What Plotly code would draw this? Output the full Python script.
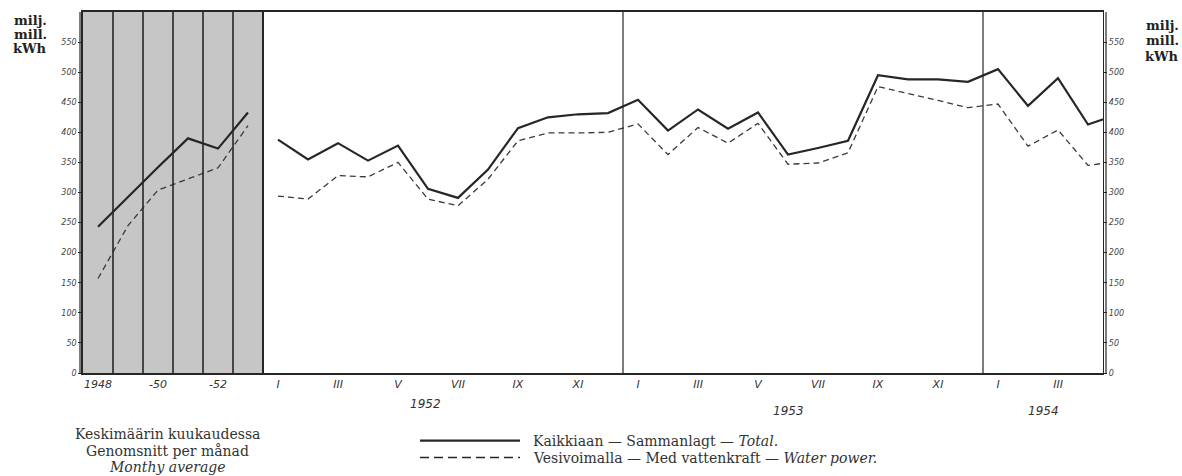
import plotly.graph_objects as go

# ---- data ----
avg_years = ["1948", "1949", "1950", "1951", "1952", "1953"]
avg_total = [243, 293, 342, 390, 373, 433]
avg_water = [157, 245, 304, 323, 341, 411]

month_labels = ["I", "II", "III", "IV", "V", "VI", "VII", "VIII", "IX", "X", "XI", "XII"]
years_monthly = ["1952", "1953", "1954"]
total_monthly = [388, 355, 382, 353, 378, 306, 291, 338, 407, 425, 430, 432,
                 454, 403, 438, 406, 433, 363, 374, 386, 495, 488, 488, 484,
                 505, 444, 490, 413, 430]
water_monthly = [294, 289, 328, 326, 350, 289, 278, 322, 386, 399, 399, 400,
                 414, 363, 408, 382, 415, 347, 349, 366, 476, 465, 453, 441,
                 447, 377, 404, 345, 352]
avg_tick_labels = ["1948", "-50", "-52"]
y_ticks = list(range(0, 600, 50))

# ---- geometry helpers ----
W, H = 1182, 476
L, R, T, B = 83, 1103, 10, 373
def xp(px):
    return (px - L) / (R - L)
def yp(py):
    return (B - py) / (B - T)

n_avg = len(avg_years)
x_avg = [i - n_avg for i in range(n_avg)]
x_mon = list(range(len(total_monthly)))

INK = "#262626"
fig = go.Figure()

fig.add_trace(go.Scatter(x=x_avg, y=avg_total, mode="lines",
                         line=dict(color=INK, width=2.2), showlegend=False))
fig.add_trace(go.Scatter(x=x_avg, y=avg_water, mode="lines",
                         line=dict(color="#3a3a3a", width=1.3, dash="6px,4px"), showlegend=False))
fig.add_trace(go.Scatter(x=x_mon, y=total_monthly, mode="lines",
                         line=dict(color=INK, width=2.2), showlegend=False))
fig.add_trace(go.Scatter(x=x_mon, y=water_monthly, mode="lines",
                         line=dict(color="#3a3a3a", width=1.3, dash="6px,4px"), showlegend=False))
fig.add_trace(go.Scatter(x=[0], y=[0], yaxis="y2", mode="markers",
                         marker=dict(opacity=0), showlegend=False, hoverinfo="skip"))

shapes = []
shapes.append(dict(type="rect", xref="x", yref="y", x0=-n_avg - 0.5, x1=-0.5, y0=0, y1=600,
                   fillcolor="#c6c6c6", line=dict(width=0), layer="below"))
for i in range(n_avg):
    xb = -n_avg + 0.5 + i
    shapes.append(dict(type="line", xref="x", yref="y", x0=xb, x1=xb, y0=0, y1=600,
                       line=dict(color=INK, width=1.6 if i < n_avg - 1 else 2)))
for j in range(1, len(years_monthly)):
    xs = 12 * j - 0.5
    shapes.append(dict(type="line", xref="x", yref="y", x0=xs, x1=xs, y0=0, y1=600,
                       line=dict(color=INK, width=1.2)))
shapes.append(dict(type="line", xref="paper", yref="paper", xsizemode="pixel", xanchor=1,
                   x0=3, x1=3, y0=0, y1=1, line=dict(color=INK, width=1.2)))
shapes.append(dict(type="line", xref="paper", yref="paper", xsizemode="pixel", xanchor=0,
                   x0=-3, x1=-3, y0=0, y1=1, line=dict(color=INK, width=1.2)))
shapes.append(dict(type="line", xref="paper", yref="paper", x0=xp(420), x1=xp(520),
                   y0=yp(441), y1=yp(441), line=dict(color=INK, width=2.2)))
shapes.append(dict(type="line", xref="paper", yref="paper", x0=xp(420), x1=xp(520),
                   y0=yp(458), y1=yp(458), line=dict(color=INK, width=1.5, dash="9px,5px")))

tickvals = [x_avg[0], x_avg[2], x_avg[4]]
ticktext = list(avg_tick_labels)
for yi in range(len(years_monthly)):
    for m in range(0, 12, 2):
        k = yi * 12 + m
        if k < len(total_monthly) - 1:
            tickvals.append(k)
            ticktext.append(month_labels[m])

fig.update_layout(
    width=W, height=H,
    margin=dict(l=L, r=W - R, t=T, b=H - B),
    paper_bgcolor="white", plot_bgcolor="white",
    shapes=shapes,
    xaxis=dict(range=[-n_avg - 0.5, len(total_monthly) - 1.5], tickvals=tickvals, ticktext=ticktext,
               showgrid=False, zeroline=False, showline=True, mirror=True,
               linecolor=INK, linewidth=1.6, ticks="",
               tickfont=dict(family="DejaVu Sans", size=11, color="#333", style="italic")),
    yaxis=dict(range=[0, 600], tickvals=y_ticks, showgrid=False, zeroline=False,
               showline=True, linecolor=INK, linewidth=1.6, ticks="outside", ticklen=3,
               tickcolor=INK, tickfont=dict(family="DejaVu Sans", size=8, color="#444", style="italic")),
    yaxis2=dict(range=[0, 600], tickvals=y_ticks, overlaying="y", side="right",
                showgrid=False, zeroline=False, showline=True, linecolor=INK, linewidth=1.4,
                ticks="outside", ticklen=3, tickcolor=INK,
                tickfont=dict(family="DejaVu Sans", size=8, color="#444", style="italic")),
)

ann = []
serif = "DejaVu Serif"
unit_lines = ["milj.", "mill.", "kWh"]
for u, pyl, pyr in zip(unit_lines, [19, 33, 47], [24, 39, 55]):
    ann.append(dict(text="<b>" + u + "</b>", xref="paper", yref="paper", x=xp(30), y=yp(pyl),
                    xanchor="center", yanchor="middle", showarrow=False,
                    font=dict(family=serif, size=13, color="#222")))
    ann.append(dict(text="<b>" + u + "</b>", xref="paper", yref="paper", x=xp(1162), y=yp(pyr),
                    xanchor="center", yanchor="middle", showarrow=False,
                    font=dict(family=serif, size=13, color="#222")))
year_pos = [(4.9, 404), (17.0, 411), (25.5, 411)]
for yr, (xk, py) in zip(years_monthly, year_pos):
    ann.append(dict(text=yr, xref="x", yref="paper", x=xk, y=yp(py), showarrow=False,
                    xanchor="center", yanchor="middle",
                    font=dict(family="DejaVu Sans", size=12, color="#333", style="italic")))
cap = ["Keskimäärin kuukaudessa", "Genomsnitt per månad", "<i>Monthy average</i>"]
for c, py in zip(cap, [434, 451, 468]):
    ann.append(dict(text=c, xref="paper", yref="paper", x=xp(167), y=yp(py), showarrow=False,
                    xanchor="center", yanchor="middle",
                    font=dict(family=serif, size=14, color="#333")))
leg = ["Kaikkiaan — Sammanlagt — <i>Total.</i>",
       "Vesivoimalla — Med vattenkraft — <i>Water power.</i>"]
for c, py in zip(leg, [441, 458]):
    ann.append(dict(text=c, xref="paper", yref="paper", x=xp(531), y=yp(py), showarrow=False,
                    xanchor="left", yanchor="middle", font=dict(family=serif, size=14, color="#333")))
fig.update_layout(annotations=ann)

fig.write_html("out.html", config={"displayModeBar": False},
               post_script="document.body.style.margin='0';")
